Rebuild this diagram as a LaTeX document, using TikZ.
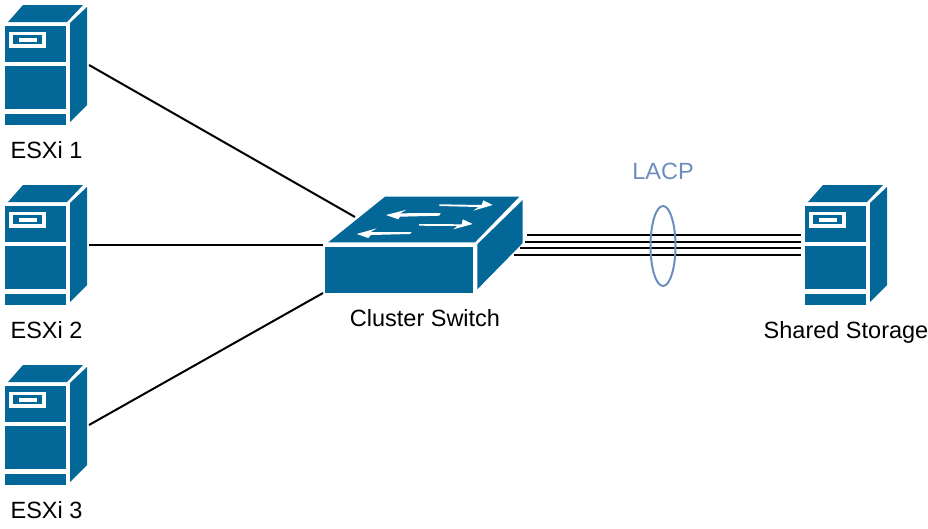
\documentclass[tikz,border=0pt]{standalone}
\usepackage{fontspec}
\setmainfont{Liberation Sans}
\definecolor{cisco}{HTML}{036897}
\definecolor{lacpblue}{HTML}{6C8EBF}
\tikzset{
  devlabel/.style={anchor=base, font=\fontsize{23.5}{28}\selectfont},
  link/.style={black, line width=2pt},
  server/.pic={
    % Top and side faces
    \fill[cisco] (8,22) -- (23,5) -- (83,5) -- (67,22) -- cycle;
    \fill[cisco] (70,23) -- (87,7) -- (87,105) -- (70,122) -- cycle;
    % Front panels
    \fill[cisco] (5,25.5) rectangle (65.5,61.5);
    \fill[cisco] (5,66) rectangle (65.5,109);
    \fill[cisco] (5,113.5) rectangle (65.5,125);
    % Drive bay
    \fill[white] (9.3,31.7) rectangle (46,47.7);
    \fill[cisco] (13.3,35) rectangle (42.3,44.3);
    \fill[white] (19,37.7) rectangle (36.7,41.7);
    \coordinate (-port) at (89,65);
  },
}
\begin{document}
\begin{tikzpicture}[x=1pt,y=-1pt]
\useasboundingbox (0,0) rectangle (928,528);

% Draw servers
\pic (esx1) at (0,0) {server};
\pic (esx2) at (0,180) {server};
\pic (esx3) at (0,360) {server};
\pic (storage) at (800,180) {server};

% Switch ports
\coordinate (swtop) at (355,217);
\coordinate (swmid) at (323,245);
\coordinate (swlow) at (323,293);
\coordinate (lag1) at (527,235);
\coordinate (lag2) at (525,241.5);
\coordinate (lag3) at (520,248);
\coordinate (lag4) at (514,255);
\coordinate (sto1) at (801,235);
\coordinate (sto2) at (801,241.5);
\coordinate (sto3) at (801,248);
\coordinate (sto4) at (801,255);

% Draw links
\draw[link] (esx1-port) -- (swtop);
\draw[link] (esx2-port) -- (swmid);
\draw[link] (esx3-port) -- (swlow);
\draw[link] (lag1) -- (sto1);
\draw[link] (lag2) -- (sto2);
\draw[link] (lag3) -- (sto3);
\draw[link] (lag4) -- (sto4);

% Draw switch
\fill[cisco] (328.3,242.3) -- (385,196.7) -- (519.3,196.7) -- (475,242.3) -- cycle;
\fill[cisco] (325,246.7) rectangle (473.3,292.7);
\fill[cisco] (477.3,244.3) -- (522.7,200) -- (522.7,243) -- (477.3,289.3) -- cycle;

% Arrows on top of switch
\fill[white] (439.3,204.3) -- (481.7,205) -- (483.3,200.3) -- (492.7,205) -- (473.3,210.7) -- (478.3,207) -- (439.3,206) -- cycle;
\fill[white] (386,215) -- (406.7,209.7) -- (400,213.3) -- (440.7,213) -- (439.3,215.7) -- (400,216.7) -- (398.3,219.3) -- cycle;
\fill[white] (419,224) -- (461.7,224.3) -- (462.7,219.3) -- (472.7,224) -- (453.3,229.3) -- (457.3,226) -- (419,225.7) -- cycle;
\fill[white] (356.7,234) -- (376.7,228.3) -- (370.7,232) -- (411.7,232) -- (410,234) -- (370.7,235) -- (368.3,238) -- cycle;

% LACP ring
\draw[lacpblue, line width=2pt] (663,246) ellipse [x radius=12.5, y radius=40];

% Label devices
\node[devlabel] (esx1label) at (46.5,158) {ESXi 1};
\node[devlabel] (esx2label) at (46.5,338) {ESXi 2};
\node[devlabel] (esx3label) at (46.5,518) {ESXi 3};
\node[devlabel] (swlabel) at (425,326) {Cluster Switch};
\node[devlabel] (stolabel) at (846,338) {Shared Storage};
\node[devlabel, text=lacpblue] (lacplabel) at (663,179) {LACP};
\end{tikzpicture}
\end{document}
